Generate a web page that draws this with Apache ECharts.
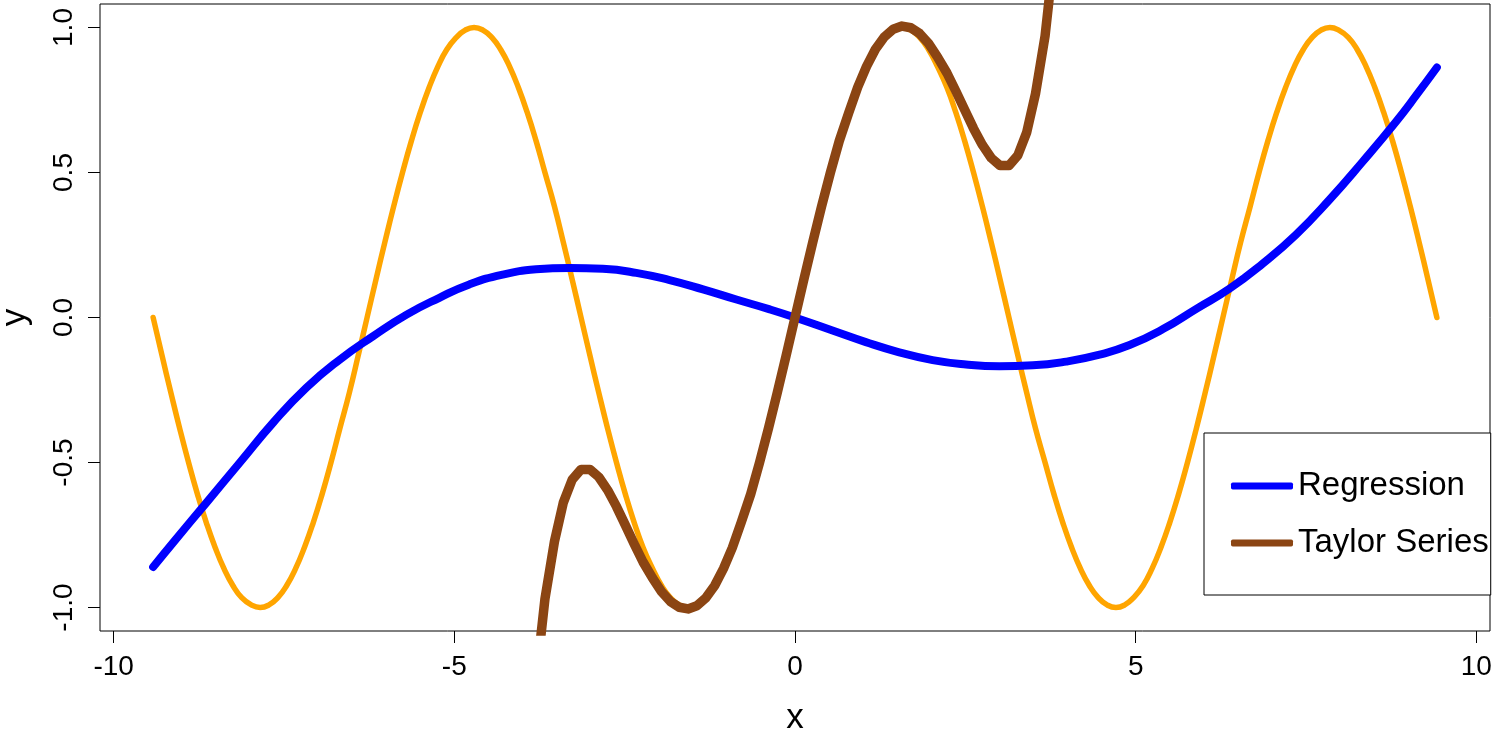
<!DOCTYPE html>
<html><head><meta charset="utf-8">
<script src="https://cdn.jsdelivr.net/npm/echarts@6/dist/echarts.min.js"></script>
<style>html,body{margin:0;padding:0;background:#fff}#chart{width:1508px;height:735px}</style>
</head><body><div id="chart"></div>
<script>
// sin(x) curve (orange)
const sinX = [-9.42,-9.29,-9.16,-9.03,-8.90,-8.77,-8.64,-8.51,-8.38,-8.25,-8.12,-7.98,-7.85,-7.72,-7.59,-7.46,-7.33,-7.20,-7.07,-6.94,-6.81,-6.68,-6.54,-6.41,-6.28,-6.15,-6.02,-5.89,-5.76,-5.63,-5.50,-5.37,-5.24,-5.11,-4.97,-4.84,-4.71,-4.58,-4.45,-4.32,-4.19,-4.06,-3.93,-3.80,-3.67,-3.53,-3.40,-3.27,-3.14,-3.01,-2.88,-2.75,-2.62,-2.49,-2.36,-2.23,-2.09,-1.96,-1.83,-1.70,-1.57,-1.44,-1.31,-1.18,-1.05,-0.92,-0.79,-0.65,-0.52,-0.39,-0.26,-0.13,0,0.13,0.26,0.39,0.52,0.65,0.79,0.92,1.05,1.18,1.31,1.44,1.57,1.70,1.83,1.96,2.09,2.23,2.36,2.49,2.62,2.75,2.88,3.01,3.14,3.27,3.40,3.53,3.67,3.80,3.93,4.06,4.19,4.32,4.45,4.58,4.71,4.84,4.97,5.11,5.24,5.37,5.50,5.63,5.76,5.89,6.02,6.15,6.28,6.41,6.54,6.68,6.81,6.94,7.07,7.20,7.33,7.46,7.59,7.72,7.85,7.98,8.12,8.25,8.38,8.51,8.64,8.77,8.90,9.03,9.16,9.29,9.42];
const sinY = [
0,-0.131,-0.259,-0.383,-0.5,-0.609,-0.707,-0.793,-0.866,-0.924,-0.966,-0.991,-1,-0.991,-0.966,-0.924,-0.866,-0.793,-0.707,-0.609,-0.5,-0.383,-0.259,-0.131,0,0.131,0.259,0.383,0.5,0.609,0.707,0.793,0.866,0.924,0.966,0.991,1,0.991,0.966,0.924,0.866,0.793,0.707,0.609,0.5,0.383,0.259,0.131,
0,-0.131,-0.259,-0.383,-0.5,-0.609,-0.707,-0.793,-0.866,-0.924,-0.966,-0.991,-1,-0.991,-0.966,-0.924,-0.866,-0.793,-0.707,-0.609,-0.5,-0.383,-0.259,-0.131,0,0.131,0.259,0.383,0.5,0.609,0.707,0.793,0.866,0.924,0.966,0.991,1,0.991,0.966,0.924,0.866,0.793,0.707,0.609,0.5,0.383,0.259,0.131,
0,-0.131,-0.259,-0.383,-0.5,-0.609,-0.707,-0.793,-0.866,-0.924,-0.966,-0.991,-1,-0.991,-0.966,-0.924,-0.866,-0.793,-0.707,-0.609,-0.5,-0.383,-0.259,-0.131,0,0.131,0.259,0.383,0.5,0.609,0.707,0.793,0.866,0.924,0.966,0.991,1,0.991,0.966,0.924,0.866,0.793,0.707,0.609,0.5,0.383,0.259,0.131,
0];
// Regression curve (blue)
const regX = [-9.42,-9.13,-8.64,-8.15,-7.66,-7.17,-6.68,-6.19,-5.70,-5.22,-4.78,-4.29,-3.80,-3.31,-2.82,-2.33,-1.84,-1.35,-0.86,-0.37,0,0.55,1.04,1.53,2.02,2.51,3.00,3.49,3.98,4.47,4.91,5.40,5.89,6.38,6.86,7.35,7.84,8.33,8.82,9.13,9.42];
const regY = [-0.860,-0.777,-0.639,-0.501,-0.363,-0.242,-0.145,-0.064,0.010,0.068,0.114,0.148,0.166,0.171,0.168,0.154,0.129,0.097,0.062,0.028,0,-0.045,-0.085,-0.120,-0.147,-0.162,-0.168,-0.165,-0.152,-0.128,-0.095,-0.040,0.030,0.100,0.185,0.285,0.405,0.537,0.675,0.770,0.862];
// Taylor series curve (brown)
const taylorX = [-4.06,-3.93,-3.80,-3.67,-3.53,-3.40,-3.27,-3.14,-3.01,-2.88,-2.75,-2.62,-2.49,-2.36,-2.23,-2.09,-1.96,-1.83,-1.70,-1.57,-1.44,-1.31,-1.18,-1.05,-0.92,-0.79,-0.65,-0.52,-0.39,-0.26,-0.13,0,0.13,0.26,0.39,0.52,0.65,0.79,0.92,1.05,1.18,1.31,1.44,1.57,1.70,1.83,1.96,2.09,2.23,2.36,2.49,2.62,2.75,2.88,3.01,3.14,3.27,3.40,3.53,3.67,3.80,3.93,4.06];
const taylorY = [-2.090,-1.616,-1.248,-0.971,-0.772,-0.638,-0.559,-0.524,-0.524,-0.550,-0.595,-0.652,-0.716,-0.781,-0.843,-0.899,-0.945,-0.979,-0.999,-1.005,-0.994,-0.967,-0.925,-0.866,-0.794,-0.707,-0.609,-0.500,-0.383,-0.259,-0.131,0,0.131,0.259,0.383,0.500,0.609,0.707,0.794,0.866,0.925,0.967,0.994,1.005,0.999,0.979,0.945,0.899,0.843,0.781,0.716,0.652,0.595,0.550,0.524,0.524,0.559,0.638,0.772,0.971,1.248,1.616,2.090];
const xTicks = [-10,-5,0,5,10];
const yTicks = [-1,-0.5,0,0.5,1];

const zip = (xs, ys) => xs.map((x, i) => [x, ys[i]]);
const FONT = 'Liberation Sans, Arial, sans-serif';
const chart = echarts.init(document.getElementById('chart'));
chart.setOption({
  animation: false,
  backgroundColor: '#fff',
  grid: {left: 100, top: 4, width: 1390, height: 627, show: true, borderColor: '#000', borderWidth: 1, containLabel: false, outerBoundsMode: 'none'},
  xAxis: {
    type: 'value', min: -10.2, max: 10.2,
    splitLine: {show: false}, axisLine: {show: false, onZero: false},
    axisTick: {show: true, inside: false, length: 12, customValues: xTicks, lineStyle: {color: '#000', width: 1}},
    axisLabel: {customValues: xTicks, margin: 22, fontSize: 28, color: '#000', fontFamily: FONT, formatter: v => String(v)},
    name: 'x', nameLocation: 'middle', nameGap: 70,
    nameTextStyle: {fontSize: 35, color: '#000', fontFamily: FONT}
  },
  yAxis: {
    type: 'value', min: -1.081, max: 1.081,
    splitLine: {show: false}, axisLine: {show: false, onZero: false},
    axisTick: {show: true, inside: false, length: 12, customValues: yTicks, lineStyle: {color: '#000', width: 1}},
    axisLabel: {customValues: yTicks, rotate: 90, margin: 22, fontSize: 28, color: '#000', fontFamily: FONT, formatter: v => v.toFixed(1)},
    name: 'y', nameLocation: 'middle', nameGap: 67, nameRotate: 90,
    nameTextStyle: {fontSize: 35, color: '#000', fontFamily: FONT}
  },
  legend: {
    data: [{name: 'Regression', icon: 'roundRect'}, {name: 'Taylor Series', icon: 'roundRect'}],
    orient: 'vertical', left: 1204, top: 433,
    padding: [36, 2, 35, 27], itemGap: 23, itemWidth: 62, itemHeight: 7,
    backgroundColor: '#fff', borderColor: '#000', borderWidth: 1, borderRadius: 0,
    textStyle: {fontSize: 33, color: '#000', fontFamily: FONT, lineHeight: 34}
  },
  series: [
    {name: 'sin', type: 'line', data: zip(sinX, sinY), smooth: true, showSymbol: false, symbol: 'none',
     lineStyle: {color: '#FFA500', width: 5.5, cap: 'round', join: 'round'}, itemStyle: {color: '#FFA500'}},
    {name: 'Regression', type: 'line', data: zip(regX, regY), smooth: true, showSymbol: false, symbol: 'none',
     lineStyle: {color: '#0000FF', width: 8, cap: 'round', join: 'round'}, itemStyle: {color: '#0000FF'}},
    {name: 'Taylor Series', type: 'line', data: zip(taylorX, taylorY), smooth: false, showSymbol: false, symbol: 'none', clip: true,
     lineStyle: {color: '#8B4513', width: 9.5, cap: 'round', join: 'round'}, itemStyle: {color: '#8B4513'}}
  ]
});
</script>
</body></html>
